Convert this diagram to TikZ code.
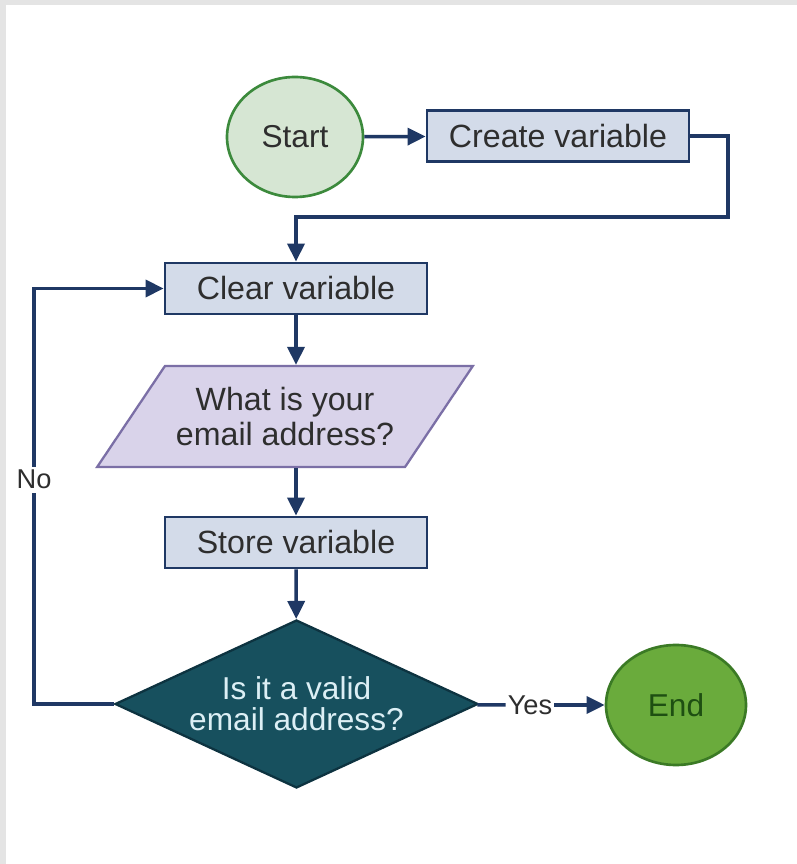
\documentclass[tikz,border=0pt]{standalone}
\usepackage{fontspec}
\setmainfont{Liberation Sans}
\usetikzlibrary{arrows.meta,shapes.geometric}
\definecolor{navy}{HTML}{1F3864}
\definecolor{boxfill}{HTML}{D3DBE9}
\definecolor{txt}{HTML}{2E2E2E}
\definecolor{startfill}{HTML}{D6E6D3}
\definecolor{startline}{HTML}{3C8A3C}
\definecolor{parafill}{HTML}{D9D3EA}
\definecolor{paraline}{HTML}{7B6FA6}
\definecolor{decfill}{HTML}{17505E}
\definecolor{decline}{HTML}{0D3340}
\definecolor{dectext}{HTML}{DCEFF5}
\definecolor{endfill}{HTML}{6AAB3C}
\definecolor{endline}{HTML}{3B7A25}
\definecolor{endtext}{HTML}{1E4F12}
\definecolor{bggray}{HTML}{E4E4E4}

\begin{document}
\begin{tikzpicture}[b/.style={draw=navy, line width=1.6pt, minimum width=5.24cm, minimum height=1.02cm, fill=#1, text=txt, font=\fontsize{18.3}{20}\selectfont},
  term/.style={ellipse, draw=#1, line width=1.5pt, minimum width=2.72cm, minimum height=2.4cm, inner sep=0pt, font=\fontsize{18}{20}\selectfont},
  flow/.style={draw=navy, line width=2pt}, >={Triangle[length=3.6mm,width=3.4mm]}]
\fill[bggray] (0,0) rectangle (15.94,17.28); \fill[white] (0.12,0) rectangle (15.94,17.18);
\useasboundingbox (0,0) rectangle (15.94,17.28);
% nodes
\node[term=startline, fill=startfill, text=txt] (start) at (5.9,14.54) {Start};
\node[b=boxfill] (create) at (11.16,14.56) {Create variable};
\node[b=boxfill] (clear) at (5.92,11.51) {Clear variable};
\node[trapezium, trapezium left angle=47, trapezium right angle=133, trapezium stretches=true, minimum width=7.52cm, minimum height=2.02cm, draw=paraline, line width=1.3pt, fill=parafill, text=txt, align=center, font=\fontsize{18.3}{19.5}\selectfont] (ask) at (5.7,8.95) {What is your\\email address?};
\node[b=boxfill] (store) at (5.92,6.43) {Store variable};
\node[diamond, aspect=2.16, inner sep=0pt, minimum width=7.26cm, minimum height=3.36cm, draw=decline, line width=1.3pt, fill=decfill, text=dectext, align=center, font=\fontsize{18}{17.5}\selectfont] (valid) at (5.93,3.2) {Is it a valid\\email address?};
\node[term=endline, fill=endfill, text=endtext, minimum width=2.8cm] (end) at (13.52,3.18) {End};
\node[inner sep=1pt, text=txt, font=\fontsize{15.5}{17}\selectfont] (yes) at (10.6,3.18) {Yes};
\coordinate (turn) at (14.56,12.94); \coordinate (back) at (0.68,11.51);
% connectors
\draw[flow,->] (start) -- (create); \draw[flow,->] (create) -| (turn) -| (clear);
\draw[flow,->] (clear) -- (clear |- ask.north); \draw[flow,->] (store |- ask.south) -- (store);
\draw[flow,->] (store) -- (valid); \draw[flow] (valid) -- (yes); \draw[flow,->] (yes) -- (end);
\draw[flow,->] (valid) -| node[pos=0.77, fill=white, inner sep=2pt, text=txt, font=\fontsize{15.5}{17}\selectfont] {No} (back) -- (clear);
\end{tikzpicture}
\end{document}
